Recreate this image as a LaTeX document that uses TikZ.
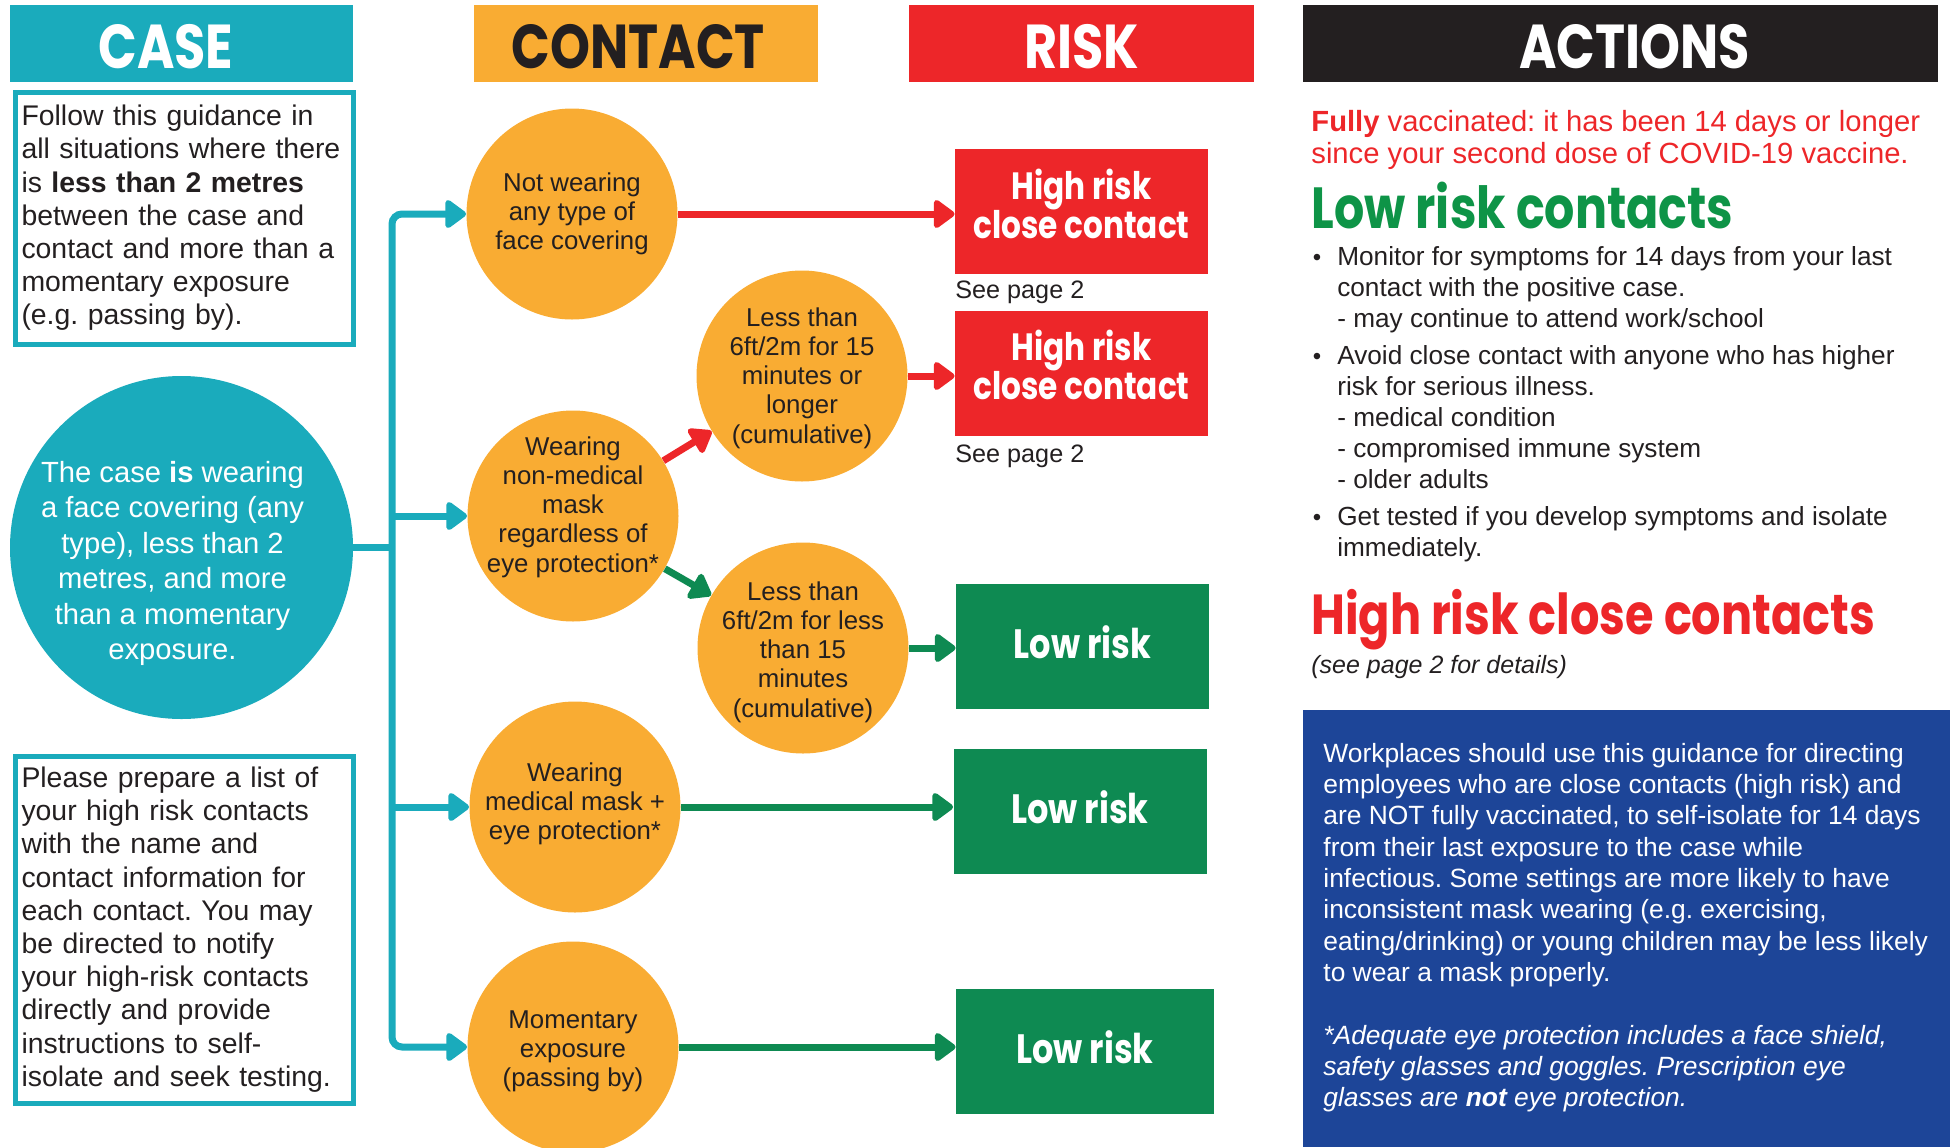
\documentclass[tikz,border=0pt]{standalone}
\usepackage{fontspec}
\setmainfont{Liberation Sans}
\newfontfamily\headfont{Poppins}[FakeStretch=0.82]
\usetikzlibrary{arrows.meta}
\definecolor{caseteal}{HTML}{1AABBC}
\definecolor{contactorange}{HTML}{F9AC33}
\definecolor{riskred}{HTML}{ED2629}
\definecolor{lowgreen}{HTML}{0E8A52}
\definecolor{headgreen}{HTML}{0E9447}
\definecolor{inkblack}{HTML}{231F20}
\definecolor{noteblue}{HTML}{1D4598}
\frenchspacing

\begin{document}
\begin{tikzpicture}[x=0.5pt, y=-0.5pt,
    head/.style={anchor=north west, minimum height=38.5pt, inner sep=0pt},
    headtext/.style={font=\headfont\bfseries\fontsize{31}{31}\selectfont, yshift=-1.5pt},
    casebox/.style={anchor=north west, draw=caseteal, line width=2.5pt, text width=162.5pt,
        inner xsep=3.25pt, align=left, text=inkblack, font=\fontsize{14.2}{16.6}\selectfont},
    ovaltext/.style={align=center, text=white, font=\fontsize{14.6}{17.7}\selectfont},
    contactcirc/.style={circle, fill=contactorange, minimum size=105.5pt, inner sep=0pt},
    ctext/.style={align=center, text=inkblack, font=\fontsize{12.9}{14.6}\selectfont},
    riskbox/.style={fill=riskred, minimum width=126.5pt, minimum height=62.5pt, inner sep=0pt},
    risktext/.style={align=center, text=white, yshift=4pt, font=\headfont\bfseries\fontsize{19}{19.5}\selectfont},
    lowbox/.style={riskbox, fill=lowgreen},
    lowtext/.style={text=white, yshift=2pt, font=\headfont\bfseries\fontsize{20.5}{20.5}\selectfont},
    seepage/.style={anchor=base west, inner sep=0pt, text=inkblack, font=\fontsize{12.6}{14}\selectfont},
    actext/.style={anchor=base west, inner sep=0pt},
    tealline/.style={draw=caseteal, line width=3.5pt},
    tealtip/.style={tealline, -{Triangle[length=11.5pt, width=16pt, round]}},
    risktip/.style={draw=riskred, line width=3.5pt, -{Triangle[length=11.5pt, width=16pt, round]}},
    lowtip/.style={risktip, draw=lowgreen},
]
    \useasboundingbox (0,0) rectangle (1950,1147);

    \node[head, fill=caseteal, minimum width=171.5pt,
        label={[headtext, text=white, xshift=-8pt]center:CASE}] (casehead) at (10,5) {};
    \node[head, fill=contactorange, minimum width=172pt,
        label={[headtext, text=inkblack, xshift=-4pt]center:CONTACT}] (contacthead) at (474,5) {};
    \node[head, fill=riskred, minimum width=172.5pt,
        label={[headtext, text=white]center:RISK}] (riskhead) at (909,5) {};
    \node[head, fill=inkblack, minimum width=317.5pt,
        label={[headtext, text=white, xshift=6.8pt]center:ACTIONS}] (actionshead) at (1303,5) {};

    \node[casebox, minimum height=126pt] (guide) at (12.5,89.5) {Follow this guidance in\\all situations where there\\is \textbf{less than 2 metres}\\between the case and\\contact and more than a\\momentary exposure\\(e.g. passing by).};
    \node[circle, fill=caseteal, minimum size=171.5pt, inner sep=0pt,
        label={[ovaltext, xshift=-4.5pt, yshift=-8pt]center:{The case \textbf{is} wearing\\a face covering (any\\type), less than 2\\metres, and more\\than a momentary\\exposure.}}] (caseoval) at (181.5,547.5) {};
    \node[casebox, minimum height=173.5pt] (contactlist) at (12.5,753.5) {Please prepare a list of\\your high risk contacts\\with the name and\\contact information for\\each contact. You may\\be directed to notify\\your high-risk contacts\\directly and provide\\instructions to self-\\isolate and seek testing.};

    \node[contactcirc, label={[ctext]center:{Not wearing\\any type of\\face covering}}] (nomask) at (572,214) {};
    \node[contactcirc, label={[ctext, yshift=4.5pt]center:{Wearing\\non-medical\\mask\\regardless of\\eye protection*}}] (clothmask) at (573,516) {};
    \node[contactcirc, label={[ctext, yshift=1.5pt]center:{Wearing\\medical mask +\\eye protection*}}] (medmask) at (575,807) {};
    \node[contactcirc, label={[ctext, yshift=-2.2pt]center:{Momentary\\exposure\\(passing by)}}] (passing) at (573,1047) {};
    \node[contactcirc, label={[ctext, yshift=-1pt]center:{Less than\\6ft/2m for 15\\minutes or\\longer\\(cumulative)}}] (longclose) at (802,376) {};
    \node[contactcirc, label={[ctext, yshift=-2pt]center:{Less than\\6ft/2m for less\\than 15\\minutes\\(cumulative)}}] (shortclose) at (803,648) {};

    \node[riskbox, label={[risktext]center:{High risk\\close contact}}] (highone) at (1081.5,211.5) {};
    \node[seepage] (seeone) at (955,298) {See page 2};
    \node[riskbox, label={[risktext]center:{High risk\\close contact}}] (hightwo) at (1081.5,373) {};
    \node[seepage] (seetwo) at (955,462) {See page 2};
    \node[lowbox, label={[lowtext]center:Low risk}] (lowone) at (1082.5,646.5) {};
    \node[lowbox, label={[lowtext]center:Low risk}] (lowtwo) at (1080,811) {};
    \node[lowbox, minimum width=129pt, label={[lowtext]center:Low risk}] (lowthree) at (1085,1051.5) {};

    \coordinate (trunk) at (392,0);
    \draw[tealline] (caseoval.east) -- (caseoval.east -| trunk);
    \draw[tealline, {Triangle[length=11.5pt, width=16pt, round]}-{Triangle[length=11.5pt, width=16pt, round]}, rounded corners=5pt]
        (passing.west) -- (trunk |- passing.west) -- (trunk |- nomask.west) -- (nomask.west);
    \foreach \c in {clothmask,medmask}
        \draw[tealtip] (trunk |- \c.west) -- (\c.west);

    \draw[risktip] (nomask.east) -- (nomask.east -| highone.west);
    \draw[risktip] (clothmask) -- (longclose);
    \draw[lowtip] (clothmask) -- (shortclose);
    \draw[risktip] (longclose.east) -- (longclose.east -| hightwo.west);
    \draw[lowtip] (shortclose.east) -- (shortclose.east -| lowone.west);
    \draw[lowtip] (medmask.east) -- (medmask.east -| lowtwo.west);
    \draw[lowtip] (passing.east) -- (passing.east -| lowthree.west);

    \node[actext, text=riskred, font=\fontsize{14.6}{16.2}\selectfont] (vaccinated) at (1311,131) {\begin{tabular}[t]{@{}l@{}}\textbf{Fully} vaccinated: it has been 14 days or longer\\since your second dose of COVID-19 vaccine.\end{tabular}};
    \node[actext, text=headgreen, font=\headfont\bfseries\fontsize{29}{29}\selectfont] (lowhead) at (1311,228) {Low risk contacts};
    \node[actext, text=inkblack, font=\fontsize{13.1}{15.5}\selectfont] (lowlist) at (1312.5,265.5) {\begin{tabular}[t]{@{}l@{\hspace{8pt}}l@{}}
        {\large\textbullet} & Monitor for symptoms for 14 days from your last\\
        & contact with the positive case.\\
        & - may continue to attend work/school\\[3pt]
        {\large\textbullet} & Avoid close contact with anyone who has higher\\
        & risk for serious illness.\\
        & - medical condition\\
        & - compromised immune system\\
        & - older adults\\[3pt]
        {\large\textbullet} & Get tested if you develop symptoms and isolate\\
        & immediately.
    \end{tabular}};
    \node[actext, text=riskred, font=\headfont\bfseries\fontsize{28.2}{28.2}\selectfont] (highhead) at (1311,634) {High risk close contacts};
    \node[actext, text=inkblack, font=\itshape\fontsize{12.5}{14}\selectfont] (details) at (1311,673) {(see page 2 for details)};

    \node[anchor=north west, fill=noteblue, minimum width=323.5pt, minimum height=218.5pt, inner sep=0pt] (notebox) at (1303,710) {};
    \node[actext, text=white, font=\fontsize{13.2}{15.67}\selectfont] (notetext) at (1323,762) {\begin{tabular}[t]{@{}l@{}}
        Workplaces should use this guidance for directing\\
        employees who are close contacts (high risk) and\\
        are NOT fully vaccinated, to self-isolate for 14 days\\
        from their last exposure to the case while\\
        infectious. Some settings are more likely to have\\
        inconsistent mask wearing (e.g. exercising,\\
        eating/drinking) or young children may be less likely\\
        to wear a mask properly.\\
        \\
        \textit{*Adequate eye protection includes a face shield,}\\
        \textit{safety glasses and goggles. Prescription eye}\\
        \textit{glasses are \textbf{not} eye protection.}
    \end{tabular}};
\end{tikzpicture}
\end{document}
